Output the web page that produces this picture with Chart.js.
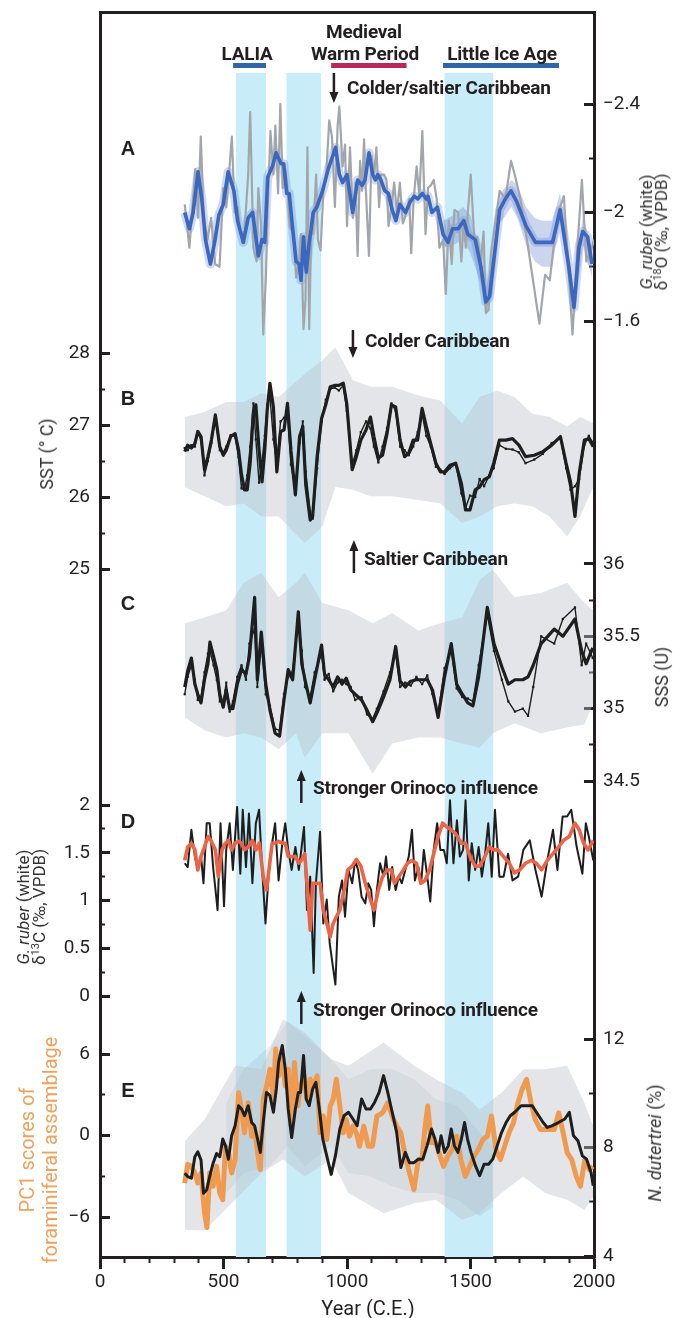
<!DOCTYPE html>
<html>
<head>
<meta charset="utf-8">
<script src="https://cdn.jsdelivr.net/npm/chart.js@4.4.1/dist/chart.umd.min.js"></script>
<style>
  html, body { margin: 0; padding: 0; background: #fff; }
  #wrap { position: relative; width: 684px; height: 1318px; overflow: hidden; font-family: Roboto, "Noto Sans", sans-serif; color: #231f20; }
  #wrap canvas { position: absolute; left: 0; top: 0; }
  .t { position: absolute; white-space: nowrap; line-height: 1; }
  .c { transform: translate(-50%, -50%); }
  .l { transform: translate(0, -50%); }
  .r90 { transform: translate(-50%, -50%) rotate(-90deg); text-align: center; }
  .ann { font-weight: 700; font-size: 19px; letter-spacing: -0.2px; }
  .pl { font-family: "Liberation Sans", Arial, sans-serif; font-weight: 700; font-size: 20px; }
  .ax { font-size: 18px; color: #333; }
  .sup { font-size: 11px; vertical-align: 6px; line-height: 0; }
</style>
</head>
<body>
<div id="wrap">
  <canvas id="chart" width="684" height="1318"></canvas>

  <div class="t ann c" style="left:364px;top:31px">Medieval</div>
  <div class="t ann c" style="left:365px;top:53px">Warm Period</div>
  <div class="t ann c" style="left:247px;top:53px">LALIA</div>
  <div class="t ann c" style="left:502px;top:53px">Little Ice Age</div>
  <div class="t ann l" style="left:347px;top:87px">Colder/saltier Caribbean</div>
  <div class="t ann l" style="left:365px;top:340px">Colder Caribbean</div>
  <div class="t ann l" style="left:364px;top:558px">Saltier Caribbean</div>
  <div class="t ann l" style="left:313px;top:787px">Stronger Orinoco influence</div>
  <div class="t ann l" style="left:313px;top:1009px">Stronger Orinoco influence</div>

  <div class="t pl c" style="left:128px;top:148px">A</div>
  <div class="t pl c" style="left:128px;top:398px">B</div>
  <div class="t pl c" style="left:128px;top:603px">C</div>
  <div class="t pl c" style="left:128px;top:821px">D</div>
  <div class="t pl c" style="left:128px;top:1090px">E</div>

  <div class="t ax r90" style="left:47px;top:454px">SST (° C)</div>
  <div class="t ax r90" style="left:31px;top:907px;font-size:17px;line-height:16px"><i>G. ruber</i> (white)<br>δ<span class="sup">13</span>C (‰, VPDB)</div>
  <div class="t r90" style="left:39px;top:1150px;font-size:20px;line-height:23px;color:#f0a25c">PC1 scores of<br>foraminiferal assemblage</div>
  <div class="t ax r90" style="left:654px;top:232px;font-size:17px;line-height:15px"><i>G. ruber</i> (white)<br>δ<span class="sup">18</span>O (‰, VPDB)</div>
  <div class="t ax r90" style="left:662px;top:677px">SSS (U)</div>
  <div class="t ax r90" style="left:655px;top:1143px"><i>N. dutertrei</i> (%)</div>
  <div class="t c" style="left:368px;top:1308px;font-size:20px">Year (C.E.)</div>
</div>

<script>
// ---- data (year C.E., value) ----
const O18_SMOOTH = [[343,-2.00],[362,-1.94],[377,-2.00],[397,-2.15],[412,-2.05],[427,-1.90],[447,-1.81],[466,-1.90],[481,-1.99],[499,-2.03],[519,-2.15],[542,-2.08],[557,-1.97],[580,-1.89],[600,-1.98],[618,-2.00],[641,-1.84],[656,-1.90],[667,-1.89],[679,-2.13],[698,-2.17],[713,-2.22],[733,-2.18],[744,-2.18],[756,-2.07],[766,-2.07],[779,-1.95],[794,-1.82],[806,-1.81],[814,-1.75],[824,-1.91],[835,-1.78],[847,-1.89],[855,-1.94],[863,-2.00],[878,-2.02],[901,-2.08],[924,-2.16],[954,-2.24],[969,-2.14],[982,-2.11],[1000,-2.14],[1023,-2.00],[1043,-2.12],[1061,-2.10],[1073,-2.12],[1089,-2.22],[1104,-2.14],[1115,-2.12],[1125,-2.14],[1137,-2.12],[1153,-2.08],[1168,-2.07],[1183,-2.01],[1198,-1.97],[1214,-2.03],[1237,-2.00],[1256,-2.04],[1272,-2.06],[1287,-2.05],[1305,-2.07],[1321,-2.05],[1328,-2.06],[1344,-2.00],[1366,-2.02],[1389,-1.92],[1409,-1.89],[1427,-1.94],[1450,-1.94],[1473,-1.97],[1489,-1.92],[1519,-1.90],[1542,-1.80],[1562,-1.67],[1577,-1.69],[1618,-2.01],[1641,-2.05],[1664,-2.08],[1687,-2.04],[1725,-1.95],[1763,-1.89],[1786,-1.89],[1832,-1.89],[1863,-2.01],[1878,-1.92],[1898,-1.80],[1919,-1.65],[1939,-1.87],[1954,-1.93],[1974,-1.91],[1992,-1.81]];
const O18_RAW = [[343,-2.03],[362,-1.87],[374,-2.02],[386,-2.16],[397,-1.98],[408,-2.28],[420,-1.98],[435,-1.90],[450,-1.98],[466,-1.81],[484,-1.80],[499,-2.09],[511,-2.02],[522,-2.14],[534,-2.28],[545,-2.00],[557,-2.02],[569,-1.92],[585,-1.93],[600,-2.14],[608,-2.37],[621,-1.87],[634,-1.82],[641,-2.09],[652,-1.95],[661,-1.55],[672,-1.77],[679,-2.02],[690,-2.30],[702,-2.14],[710,-2.32],[721,-2.07],[730,-2.40],[740,-2.09],[750,-2.16],[759,-2.09],[768,-1.95],[783,-1.92],[794,-1.76],[805,-1.81],[814,-1.92],[824,-1.57],[832,-1.68],[840,-2.24],[847,-1.57],[855,-1.92],[863,-1.92],[875,-2.14],[882,-1.90],[893,-1.86],[905,-2.09],[916,-2.14],[928,-2.34],[939,-2.28],[951,-2.02],[962,-2.32],[969,-2.39],[982,-2.17],[992,-2.25],[1000,-1.95],[1012,-2.24],[1024,-1.98],[1034,-2.11],[1043,-1.84],[1053,-2.19],[1061,-2.08],[1069,-2.27],[1076,-2.09],[1089,-1.84],[1099,-2.21],[1110,-2.14],[1119,-2.24],[1130,-2.02],[1137,-2.14],[1150,-2.14],[1160,-2.12],[1168,-1.95],[1180,-2.02],[1191,-2.11],[1202,-2.00],[1214,-2.11],[1226,-1.96],[1241,-2.00],[1252,-2.05],[1260,-1.85],[1270,-2.05],[1282,-2.17],[1293,-2.06],[1305,-2.30],[1318,-1.92],[1328,-2.09],[1339,-2.10],[1351,-2.12],[1363,-2.05],[1374,-1.87],[1389,-1.90],[1400,-1.70],[1412,-1.97],[1424,-1.81],[1435,-2.01],[1450,-2.00],[1463,-1.82],[1473,-1.97],[1481,-1.87],[1489,-2.00],[1501,-2.14],[1516,-1.89],[1527,-1.91],[1542,-1.82],[1553,-1.93],[1562,-1.63],[1573,-1.64],[1583,-1.85],[1603,-1.98],[1618,-2.08],[1641,-2.05],[1664,-2.19],[1679,-2.14],[1702,-2.05],[1725,-1.92],[1745,-1.80],[1779,-1.59],[1802,-1.77],[1821,-1.75],[1840,-1.90],[1855,-2.00],[1878,-2.06],[1889,-1.90],[1901,-1.73],[1913,-1.55],[1931,-1.85],[1951,-2.12],[1969,-1.82],[1985,-1.85],[2000,-1.90]];
// [year, lower, upper]
const O18_BAND = [[1390,-1.97,-1.87],[1430,-1.99,-1.88],[1470,-2.02,-1.90],[1500,-1.99,-1.85],[1540,-1.86,-1.74],[1562,-1.72,-1.62],[1590,-1.84,-1.70],[1620,-2.07,-1.96],[1665,-2.12,-2.02],[1690,-2.10,-1.98],[1725,-2.02,-1.88],[1760,-1.98,-1.82],[1790,-1.97,-1.80],[1830,-1.97,-1.80],[1862,-2.07,-1.96],[1880,-1.98,-1.86],[1920,-1.70,-1.60],[1955,-1.99,-1.88],[1992,-1.86,-1.76]];

const SST_MAIN = [[343,26.63],[355,26.72],[370,26.68],[384,26.74],[396,26.91],[409,26.84],[423,26.38],[437,26.56],[451,26.79],[467,27.14],[485,26.70],[499,26.58],[511,26.65],[529,26.84],[547,26.88],[561,26.65],[573,26.31],[585,26.10],[596,26.10],[608,26.47],[621,27.18],[631,27.28],[644,26.65],[656,26.21],[667,26.65],[677,27.21],[688,27.58],[702,27.25],[716,26.35],[731,26.91],[745,26.93],[759,27.30],[773,26.65],[791,26.03],[808,26.84],[821,26.98],[833,26.17],[851,25.68],[861,25.73],[879,26.56],[897,27.09],[914,27.28],[932,27.53],[950,27.55],[967,27.55],[985,27.58],[999,27.30],[1021,26.38],[1038,26.56],[1056,26.79],[1077,26.93],[1095,27.11],[1109,26.84],[1127,26.54],[1144,26.58],[1162,26.88],[1180,27.28],[1197,27.25],[1215,26.79],[1233,26.56],[1250,26.61],[1268,26.79],[1286,26.79],[1304,27.23],[1321,26.98],[1339,26.74],[1360,26.47],[1378,26.35],[1395,26.35],[1417,26.44],[1440,26.47],[1463,26.19],[1480,25.82],[1498,25.82],[1519,26.10],[1537,26.14],[1555,26.24],[1576,26.28],[1594,26.47],[1617,26.79],[1643,26.79],[1670,26.81],[1696,26.72],[1723,26.56],[1758,26.58],[1793,26.63],[1829,26.72],[1864,26.84],[1887,26.47],[1905,26.21],[1923,25.73],[1940,26.33],[1961,26.79],[1979,26.81],[1997,26.70]];
const SST_ALT = [[343,26.68],[355,26.65],[370,26.72],[384,26.70],[396,26.88],[409,26.80],[423,26.30],[437,26.50],[451,26.75],[467,27.10],[485,26.65],[499,26.62],[511,26.70],[529,26.86],[547,26.84],[561,26.55],[573,26.12],[585,26.10],[596,26.30],[608,26.70],[621,27.30],[631,26.80],[644,26.20],[656,26.50],[667,26.85],[677,27.28],[688,27.40],[702,26.80],[716,26.45],[731,27.05],[745,27.10],[759,27.15],[773,26.45],[791,26.10],[808,26.75],[821,27.05],[833,26.35],[851,25.80],[861,25.70],[879,26.40],[897,27.05],[914,27.35],[932,27.50],[950,27.52],[967,27.48],[985,27.55],[999,27.20],[1021,26.45],[1038,26.65],[1056,26.90],[1077,27.05],[1095,26.95],[1109,26.70],[1127,26.48],[1144,26.70],[1162,26.95],[1180,27.30],[1197,27.20],[1215,26.70],[1233,26.65],[1250,26.58],[1268,26.70],[1286,26.90],[1304,27.15],[1321,26.85],[1339,26.70],[1360,26.42],[1378,26.38],[1395,26.32],[1417,26.40],[1440,26.46],[1463,26.05],[1480,25.85],[1498,26.02],[1519,26.00],[1537,26.25],[1555,26.15],[1576,26.30],[1594,26.40],[1617,26.72],[1643,26.67],[1670,26.66],[1696,26.62],[1723,26.47],[1758,26.52],[1793,26.60],[1829,26.75],[1864,26.82],[1887,26.40],[1905,26.10],[1923,26.15],[1940,26.25],[1961,26.72],[1979,26.85],[1997,26.75]];
const SST_BAND = [[343,26.14,27.11],[423,26.01,27.18],[511,25.87,27.32],[582,25.91,27.32],[653,25.73,27.44],[723,25.73,27.39],[829,25.36,27.71],[900,25.59,27.90],[953,26.14,28.08],[1024,26.10,27.62],[1095,26.01,27.53],[1183,26.01,27.53],[1289,25.96,27.41],[1378,25.91,27.34],[1466,25.64,27.02],[1537,25.73,27.39],[1608,25.87,27.48],[1678,25.91,27.39],[1749,25.87,27.16],[1820,25.73,27.11],[1891,25.45,26.98],[1944,25.73,27.11],[1997,26.14,27.02]];

const SSS_MAIN = [[343,35.15],[355,35.26],[370,35.35],[384,35.17],[396,35.10],[409,35.04],[423,35.20],[437,35.31],[445,35.46],[460,35.36],[473,35.27],[485,35.10],[499,35.01],[511,35.13],[525,35.00],[538,35.00],[556,35.17],[573,35.27],[591,35.24],[605,35.36],[626,35.77],[637,35.20],[653,35.53],[671,35.17],[688,34.99],[709,34.83],[727,34.81],[745,35.06],[762,35.27],[780,35.20],[803,35.67],[817,35.31],[830,35.20],[851,35.04],[869,35.20],[897,35.44],[909,35.24],[926,35.20],[944,35.15],[962,35.22],[980,35.17],[997,35.21],[1015,35.13],[1033,35.10],[1059,35.06],[1081,34.99],[1104,34.91],[1121,34.97],[1148,35.08],[1174,35.20],[1197,35.43],[1215,35.19],[1236,35.15],[1258,35.19],[1281,35.20],[1304,35.20],[1325,35.20],[1346,35.13],[1369,34.94],[1395,35.22],[1422,35.45],[1444,35.17],[1467,35.10],[1489,35.04],[1510,35.02],[1533,35.22],[1568,35.70],[1595,35.45],[1627,35.29],[1653,35.17],[1680,35.20],[1712,35.20],[1733,35.22],[1754,35.30],[1786,35.45],[1839,35.55],[1874,35.50],[1923,35.62],[1950,35.40],[1968,35.31],[1995,35.42]];
const SSS_ALT = [[343,35.10],[355,35.22],[370,35.30],[384,35.20],[396,35.06],[409,35.08],[423,35.25],[437,35.38],[445,35.40],[460,35.30],[473,35.20],[485,35.05],[499,35.04],[511,35.18],[525,34.98],[538,35.05],[556,35.22],[573,35.30],[591,35.20],[605,35.45],[626,35.55],[637,35.15],[653,35.45],[671,35.10],[688,35.02],[709,34.86],[727,34.85],[745,35.10],[762,35.22],[780,35.26],[803,35.62],[817,35.40],[830,35.15],[851,35.08],[869,35.25],[897,35.38],[909,35.20],[926,35.24],[944,35.12],[962,35.18],[980,35.20],[997,35.17],[1015,35.15],[1033,35.06],[1059,35.08],[1081,34.96],[1104,34.93],[1121,35.00],[1148,35.12],[1174,35.25],[1197,35.38],[1215,35.15],[1236,35.18],[1258,35.16],[1281,35.22],[1304,35.17],[1325,35.23],[1346,35.10],[1369,34.97],[1395,35.28],[1422,35.40],[1444,35.14],[1467,35.08],[1489,35.07],[1510,35.05],[1533,35.30],[1568,35.65],[1595,35.40],[1627,35.20],[1653,35.05],[1680,34.98],[1712,35.00],[1733,34.95],[1754,35.15],[1786,35.50],[1839,35.45],[1874,35.62],[1923,35.70],[1950,35.30],[1968,35.45],[1995,35.35]];
const SSS_BAND = [[343,34.94,35.59],[423,34.85,35.63],[511,34.80,35.68],[582,34.83,35.87],[653,34.80,35.94],[723,34.72,35.77],[794,34.83,35.87],[829,34.66,35.94],[900,34.83,35.73],[1006,34.83,35.68],[1104,34.55,35.59],[1183,34.76,35.66],[1289,34.80,35.54],[1378,34.80,35.59],[1466,34.76,35.63],[1537,34.73,35.89],[1590,34.83,35.96],[1678,34.90,35.77],[1785,34.83,35.80],[1891,34.87,35.87],[1961,34.89,35.73],[1997,35.04,35.68]];

const C13_RAW = [[343,1.39],[355,1.35],[370,1.74],[384,1.46],[396,1.32],[409,1.46],[419,1.18],[432,1.81],[444,1.81],[458,1.35],[476,0.90],[488,1.81],[502,0.94],[511,1.53],[525,1.81],[538,1.32],[555,1.98],[568,1.28],[578,1.95],[591,1.35],[603,1.91],[617,1.18],[631,1.81],[644,1.95],[656,1.35],[670,0.76],[684,1.32],[697,1.60],[709,1.81],[723,1.21],[738,1.60],[750,1.81],[762,1.53],[776,1.32],[791,1.56],[805,1.32],[815,1.53],[826,1.77],[838,0.90],[851,1.25],[865,0.24],[874,1.18],[891,1.72],[904,0.76],[918,1.01],[930,0.55],[953,0.12],[967,1.04],[980,1.21],[992,0.83],[1006,1.32],[1021,1.18],[1033,1.42],[1045,1.32],[1059,1.04],[1074,0.97],[1086,1.18],[1098,1.11],[1109,0.73],[1121,1.11],[1134,1.39],[1148,1.25],[1158,1.46],[1171,1.11],[1183,1.35],[1197,1.11],[1210,1.25],[1222,1.18],[1236,1.32],[1250,1.46],[1263,1.74],[1275,1.21],[1289,1.35],[1300,1.18],[1311,1.53],[1325,1.25],[1337,0.99],[1351,1.53],[1365,1.81],[1378,1.53],[1392,1.53],[1404,1.39],[1417,2.05],[1431,1.39],[1445,1.84],[1457,1.46],[1470,1.53],[1480,2.05],[1493,1.21],[1505,1.60],[1519,1.32],[1533,1.56],[1546,1.25],[1558,1.46],[1572,1.81],[1586,1.25],[1599,1.95],[1617,1.25],[1634,1.25],[1652,1.49],[1670,1.21],[1693,1.25],[1714,1.53],[1740,1.63],[1763,1.32],[1788,1.04],[1811,1.42],[1834,1.74],[1852,1.32],[1873,1.88],[1891,1.88],[1908,1.95],[1930,1.56],[1953,1.28],[1967,1.81],[1979,1.67],[1997,1.42]];
const C13_SMOOTH = [[343,1.42],[355,1.56],[370,1.60],[384,1.53],[396,1.32],[409,1.46],[423,1.56],[437,1.67],[449,1.63],[467,1.53],[479,1.25],[494,1.53],[508,1.60],[520,1.63],[533,1.53],[547,1.60],[561,1.62],[573,1.60],[585,1.53],[600,1.56],[617,1.63],[631,1.53],[645,1.60],[661,1.25],[674,1.11],[684,1.32],[697,1.60],[709,1.60],[723,1.62],[738,1.60],[750,1.60],[762,1.46],[776,1.46],[791,1.46],[805,1.39],[815,1.42],[829,1.49],[838,1.18],[851,0.69],[861,1.18],[874,1.18],[891,1.18],[904,0.90],[921,0.73],[932,0.62],[944,0.76],[957,0.83],[971,0.90],[988,1.11],[1003,1.32],[1021,1.36],[1038,1.43],[1056,1.36],[1074,1.18],[1091,1.04],[1109,0.90],[1127,1.11],[1144,1.25],[1162,1.32],[1180,1.32],[1192,1.18],[1210,1.25],[1228,1.32],[1245,1.39],[1263,1.42],[1281,1.39],[1299,1.18],[1316,1.21],[1334,1.32],[1351,1.49],[1369,1.67],[1387,1.81],[1404,1.77],[1422,1.74],[1440,1.70],[1463,1.60],[1480,1.60],[1498,1.46],[1519,1.36],[1537,1.36],[1558,1.46],[1576,1.56],[1594,1.53],[1611,1.53],[1634,1.46],[1657,1.39],[1678,1.29],[1699,1.32],[1723,1.39],[1746,1.42],[1767,1.39],[1788,1.32],[1811,1.42],[1834,1.49],[1856,1.56],[1877,1.63],[1900,1.67],[1923,1.81],[1940,1.74],[1958,1.60],[1976,1.53],[1997,1.63]];

const PC1 = [[343,-3.50],[355,-2.14],[370,-2.27],[384,-2.76],[396,-3.50],[409,-2.76],[423,-5.67],[433,-6.78],[444,-2.76],[458,-3.74],[472,-2.27],[485,-4.24],[497,-4.73],[508,-0.79],[520,-1.28],[533,-2.76],[547,-1.77],[561,3.15],[573,1.92],[585,0.20],[600,2.41],[614,-0.05],[626,0.44],[638,-1.28],[649,-2.51],[661,2.66],[675,3.65],[688,4.88],[702,2.66],[711,6.36],[723,4.39],[738,5.62],[750,3.65],[762,4.88],[773,0.69],[787,5.37],[801,2.17],[812,3.65],[826,4.39],[838,2.66],[851,4.14],[865,3.65],[879,4.39],[891,0.20],[904,1.43],[918,-0.30],[932,2.17],[944,2.66],[957,4.14],[971,2.17],[985,0.20],[997,1.18],[1010,-0.05],[1024,0.69],[1038,0.20],[1051,-0.79],[1068,0.69],[1086,-0.79],[1103,-0.79],[1121,1.43],[1144,1.67],[1165,2.41],[1183,1.43],[1201,0.69],[1218,0.20],[1236,-1.53],[1253,-2.76],[1271,-3.99],[1289,-1.77],[1303,-1.77],[1315,0.44],[1327,2.17],[1341,-0.54],[1359,-0.54],[1377,-1.53],[1391,-2.27],[1408,-1.53],[1426,-1.03],[1444,-0.05],[1461,-1.77],[1479,-3.01],[1497,-2.27],[1514,-1.53],[1532,-1.03],[1550,-0.30],[1568,-0.05],[1585,1.43],[1603,-1.03],[1621,-1.77],[1638,-0.79],[1656,0.20],[1674,0.94],[1692,2.41],[1709,3.40],[1727,4.14],[1745,2.41],[1762,1.18],[1783,0.44],[1804,0.44],[1822,0.44],[1839,0.44],[1857,1.67],[1875,0.20],[1892,-1.28],[1910,-1.77],[1928,-3.01],[1945,-3.74],[1963,-1.77],[1981,-2.51],[1995,-2.27]];
const NDUT = [[343,7.05],[355,6.93],[370,6.87],[384,7.66],[396,7.84],[409,7.54],[419,6.31],[432,6.44],[444,6.93],[458,7.42],[472,7.78],[485,7.66],[497,8.31],[508,8.06],[520,7.57],[533,8.43],[547,8.80],[561,9.54],[573,9.42],[585,9.17],[600,9.54],[614,8.92],[626,8.80],[638,8.31],[649,7.82],[661,8.92],[674,10.03],[688,9.91],[702,9.30],[714,10.16],[723,11.14],[738,11.76],[750,10.90],[762,9.42],[776,8.37],[791,9.42],[803,10.03],[812,10.03],[824,11.39],[835,9.79],[847,9.54],[861,10.16],[874,10.40],[888,9.42],[902,8.31],[918,7.69],[936,7.01],[953,7.69],[971,8.68],[988,9.17],[1006,9.30],[1024,9.05],[1041,8.80],[1059,9.79],[1077,9.42],[1095,9.42],[1112,9.67],[1130,10.03],[1148,10.65],[1165,10.03],[1183,9.30],[1201,8.56],[1218,7.26],[1236,7.82],[1253,7.44],[1271,7.44],[1289,7.57],[1307,7.57],[1324,8.06],[1342,8.68],[1356,8.31],[1369,7.82],[1381,8.43],[1395,7.82],[1410,8.06],[1422,8.68],[1435,8.06],[1449,7.82],[1463,8.31],[1476,8.92],[1488,8.31],[1502,7.82],[1520,7.33],[1537,6.96],[1555,7.38],[1573,7.38],[1590,7.57],[1608,8.06],[1626,8.56],[1644,8.92],[1661,9.17],[1679,9.30],[1705,9.54],[1732,9.54],[1750,9.54],[1767,9.30],[1794,8.92],[1811,8.74],[1829,8.80],[1856,8.92],[1882,9.05],[1900,9.30],[1917,8.43],[1935,8.25],[1953,7.69],[1970,7.57],[1988,7.08],[1997,6.59]];
const PC1_BAND = [[343,-6.95,-0.42],[423,-7.00,1.18],[547,-4.73,5.13],[653,-2.76,4.88],[741,-1.77,8.57],[829,-3.01,7.59],[936,-1.77,5.62],[1006,-4.24,5.13],[1148,-5.72,6.85],[1272,-4.98,5.13],[1360,-4.73,4.14],[1466,-6.21,3.15],[1537,-5.72,1.92],[1625,-4.24,3.15],[1714,-3.01,4.88],[1802,-4.24,4.88],[1891,-4.73,5.13],[1961,-5.47,2.41],[1997,-4.50,0.69]];
const PC1_INNER = [[511,-4.24,2.41],[582,-2.76,4.88],[688,-2.27,6.60],[759,-0.79,8.33],[829,-2.27,7.34],[936,-0.79,5.62],[1006,-2.76,4.14],[1095,-3.01,4.88],[1183,-3.74,4.88],[1272,-4.24,4.14],[1360,-4.24,2.66],[1449,-4.73,2.17],[1537,-5.96,0.20],[1590,-5.22,-0.79]];

// periods (year spans)
const COLD_SPANS = [[550, 672], [755, 895], [1395, 1592]];
const PERIOD_BARS = [[539, 672, '#2f64a8'], [936, 1241, '#b8265a'], [1389, 1858, '#2f64a8']];
// arrows: year, tail y, head y (pixels)
const ARROWS = [[947, 73, 103], [1024, 330, 358], [1028, 573, 540], [815, 803, 770], [815, 1024, 991]];

const X_MAJOR = [0, 500, 1000, 1500, 2000];
const X_MINOR = [0,100,200,300,400,500,600,700,800,900,1000,1100,1200,1300,1400,1500,1600,1700,1800,1900,2000];

// ---- layout ----
const INK = '#231f20';
const TICK_FONT = { family: 'Roboto', size: 19 };
const TOP = 12, BOTTOM = 1257;

function span(v1, p1, v2, p2) {
  var k = (p2 - p1) / (v2 - v1);
  var a = v1 + (TOP - p1) / k, b = v1 + (BOTTOM - p1) / k;
  return { min: Math.min(a, b), max: Math.max(a, b), reverse: k > 0 };
}
function fmt(v) { return v < 0 ? '\u2212' + (-v) : String(v); }

function sideAxis(side, range, values, major) {
  return {
    type: 'linear', position: side, weight: 0,
    min: range.min, max: range.max, reverse: range.reverse,
    afterFit: function (s) { s.width = 0; s.paddingTop = 0; s.paddingBottom = 0; },
    afterBuildTicks: function (s) { s.ticks = values.map(function (v) { return { value: v }; }); },
    border: { display: false },
    grid: { display: true, drawOnChartArea: false, drawTicks: true, tickLength: major ? -10 : -5, tickWidth: major ? 3 : 2, tickColor: INK },
    ticks: { display: major, autoSkip: false, padding: side === 'left' ? 20 : 19, font: TICK_FONT, color: INK, callback: fmt }
  };
}
function frameAxis(side, w) {
  return {
    type: 'linear', position: side, weight: 10, min: 0, max: 1,
    afterFit: function (s) { s.width = w; s.paddingTop = 0; s.paddingBottom = 0; },
    ticks: { display: false },
    grid: { display: true, drawOnChartArea: false, drawTicks: false },
    border: { display: true, width: 3, color: INK }
  };
}

// the panel axes take no room in the layout; give their labels room to draw afterwards
const labelRoom = {
  id: 'labelRoom',
  afterLayout: function (chart) {
    Object.keys(chart.scales).forEach(function (id) {
      var s = chart.scales[id];
      if (s.axis !== 'y' || s.options.weight !== 0) return;
      if (s.options.position === 'left') s.left = 0;
      else s.right = chart.width;
      s.width = s.right - s.left;
    });
  }
};

function pts(list) { return list.map(function (p) { return { x: p[0], y: p[1] }; }); }
function lo(list) { return list.map(function (p) { return { x: p[0], y: p[1] }; }); }
function hi(list) { return list.map(function (p) { return { x: p[0], y: p[2] }; }); }

function line(list, axis, color, width, order, extra) {
  return Object.assign({
    data: pts(list), yAxisID: axis, borderColor: color, borderWidth: width,
    pointRadius: 0, tension: 0, fill: false, order: order, borderJoinStyle: 'round'
  }, extra || {});
}
function band(list, axis, color, order) {
  return [
    { data: hi(list), yAxisID: axis, borderWidth: 0, borderColor: 'transparent', pointRadius: 0, tension: 0, fill: false, order: order },
    { data: lo(list), yAxisID: axis, borderWidth: 0, borderColor: 'transparent', pointRadius: 0, tension: 0, fill: '-1', backgroundColor: color, order: order }
  ];
}

const periodsPlugin = {
  id: 'periods',
  beforeDatasetsDraw: function (chart) {
    var ctx = chart.ctx, x = chart.scales.x, a = chart.chartArea;
    ctx.save();
    ctx.fillStyle = '#c8ecf8';
    COLD_SPANS.forEach(function (s) {
      var x0 = x.getPixelForValue(s[0]), x1 = x.getPixelForValue(s[1]);
      ctx.fillRect(x0, 73, x1 - x0, a.bottom - 73);
    });
    ctx.restore();
  },
  afterDatasetsDraw: function (chart) {
    var ctx = chart.ctx, x = chart.scales.x;
    ctx.save();
    PERIOD_BARS.forEach(function (b) {
      var x0 = x.getPixelForValue(b[0]), x1 = x.getPixelForValue(b[1]);
      ctx.fillStyle = b[2];
      ctx.fillRect(x0, 63, x1 - x0, 5);
    });
    ctx.strokeStyle = INK; ctx.fillStyle = INK; ctx.lineWidth = 2.5;
    ARROWS.forEach(function (r) {
      var px = x.getPixelForValue(r[0]), y0 = r[1], y1 = r[2];
      var dir = y1 > y0 ? 1 : -1;
      ctx.beginPath(); ctx.moveTo(px, y0); ctx.lineTo(px, y1 - dir * 9); ctx.stroke();
      ctx.beginPath(); ctx.moveTo(px - 4.5, y1 - dir * 11); ctx.lineTo(px + 4.5, y1 - dir * 11); ctx.lineTo(px, y1); ctx.closePath(); ctx.fill();
    });
    ctx.restore();
  }
};

const rA = span(-2.4, 104, -1.6, 321);
const rB = span(28, 353, 25, 569);
const rC = span(36, 564, 34.5, 781);
const rD = span(2, 805, 0, 996);
const rE = span(6, 1054, -6, 1217);
const rN = span(12, 1039, 4, 1256);

const GRAY_BAND = 'rgba(188,193,199,0.42)';
const thin = { pointRadius: 1.6, pointStyle: 'rect', pointBackgroundColor: '#1e1e1e', pointBorderWidth: 0 };

const datasets = [].concat(
  band(O18_BAND, 'yA', 'rgba(110,135,205,0.35)', 6),
  [line(O18_SMOOTH, 'yA', 'rgba(100,128,208,0.30)', 9, 5)],
  [line(O18_RAW, 'yA', '#a2a6ab', 2.2, 3)],
  [line(O18_SMOOTH, 'yA', '#3a67c0', 3.6, 1)],
  band(SST_BAND, 'yB', GRAY_BAND, 6),
  [line(SST_ALT, 'yB', '#1e1e1e', 1.4, 3, thin)],
  [line(SST_MAIN, 'yB', '#1e1e1e', 3.2, 1)],
  band(SSS_BAND, 'yC', GRAY_BAND, 6),
  [line(SSS_ALT, 'yC', '#1e1e1e', 1.4, 3, thin)],
  [line(SSS_MAIN, 'yC', '#1e1e1e', 3.2, 1)],
  [line(C13_RAW, 'yD', '#1e1e1e', 2, 3)],
  [line(C13_SMOOTH, 'yD', '#ea6445', 3.6, 1)],
  band(PC1_BAND, 'yE', GRAY_BAND, 6),
  band(PC1_INNER, 'yE', 'rgba(140,165,190,0.18)', 6),
  [line(PC1, 'yE', '#ef9a4f', 5, 2)],
  [line(NDUT, 'yN', '#1e1e1e', 3, 1)]
);

new Chart(document.getElementById('chart'), {
  type: 'line',
  data: { datasets: datasets },
  plugins: [periodsPlugin, labelRoom],
  options: {
    responsive: false,
    animation: false,
    devicePixelRatio: 1,
    layout: { padding: { top: TOP, left: 0, right: 0, bottom: 0 } },
    plugins: { legend: { display: false }, tooltip: { enabled: false } },
    scales: {
      x: {
        type: 'linear', position: 'bottom', weight: 1, min: 0, max: 2000,
        afterFit: function (s) { s.height = 1318 - BOTTOM; s.paddingLeft = 0; s.paddingRight = 0; },
        afterBuildTicks: function (s) { s.ticks = X_MAJOR.map(function (v) { return { value: v }; }); },
        border: { display: true, width: 3, color: INK },
        grid: { display: true, drawOnChartArea: false, drawTicks: true, tickLength: 12, tickWidth: 3, tickColor: INK },
        ticks: { autoSkip: false, maxRotation: 0, padding: 2, font: TICK_FONT, color: INK, callback: function (v) { return String(v); } }
      },
      xMinor: {
        type: 'linear', position: 'bottom', weight: 0, min: 0, max: 2000,
        afterFit: function (s) { s.height = 0; s.paddingLeft = 0; s.paddingRight = 0; },
        afterBuildTicks: function (s) { s.ticks = X_MINOR.map(function (v) { return { value: v }; }); },
        border: { display: false },
        grid: { display: true, drawOnChartArea: false, drawTicks: true, tickLength: 6, tickWidth: 2, tickColor: INK },
        ticks: { display: false }
      },
      xTop: {
        type: 'linear', position: 'top', min: 0, max: 2000,
        afterFit: function (s) { s.height = 0; s.paddingLeft = 0; s.paddingRight = 0; },
        border: { display: true, width: 3, color: INK },
        grid: { display: true, drawOnChartArea: false, drawTicks: false },
        ticks: { display: false }
      },
      yFrameL: frameAxis('left', 100),
      yFrameR: frameAxis('right', 684 - 594),
      yA: sideAxis('right', rA, [-2.4, -2, -1.6], true),
      yAm: sideAxis('right', rA, [-2.2, -1.8], false),
      yB: sideAxis('left', rB, [25, 26, 27, 28], true),
      yBm: sideAxis('left', rB, [25.5, 26.5, 27.5], false),
      yC: sideAxis('right', rC, [34.5, 35, 35.5, 36], true),
      yCm: sideAxis('right', rC, [34.75, 35.25, 35.75], false),
      yD: sideAxis('left', rD, [0, 0.5, 1, 1.5, 2], true),
      yDm: sideAxis('left', rD, [0.25, 0.75, 1.25, 1.75], false),
      yE: sideAxis('left', rE, [-6, 0, 6], true),
      yEm: sideAxis('left', rE, [-3, 3], false),
      yN: sideAxis('right', rN, [4, 8, 12], true),
      yNm: sideAxis('right', rN, [6, 10], false)
    }
  }
});
</script>
</body>
</html>
